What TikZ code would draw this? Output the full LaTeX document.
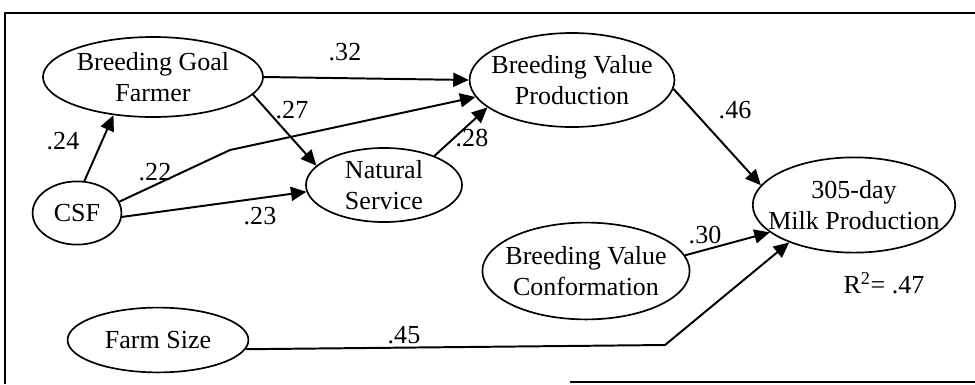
\documentclass[tikz,border=0pt]{standalone}
\usepackage{fontspec}
\setmainfont{Liberation Serif}
\usetikzlibrary{arrows.meta,shapes.geometric}

\begin{document}
\begin{tikzpicture}[x=0.025cm, y=-0.025cm,
  latent/.style={draw, ellipse, line width=1.2pt, inner sep=0pt, align=center,
    font=\fontsize{18.5}{22}\selectfont},
  effect/.style={-{Triangle[length=11pt,width=10pt]}, line width=1.4pt},
  coef/.style={font=\fontsize{18.5}{22}\selectfont}]
  \useasboundingbox (0,0) rectangle (975,384);
  % Frame (cut at the right)
  \draw[line width=1.2pt] (975,13) -- (5,13) -- (5,384);
  \draw[line width=1.2pt] (570,382) -- (975,382);
  % Variables
  \node[latent, minimum width=5.5cm, minimum height=2.0cm, inner xsep=-1pt] (goal) at (153,77) {Breeding Goal\\Farmer};
  \node[latent, minimum width=2.22cm, minimum height=1.58cm] (csf) at (77,213) {CSF};
  \node[latent, minimum width=3.9cm, minimum height=1.85cm] (natural) at (384,185) {Natural\\Service};
  \node[latent, minimum width=5.12cm, minimum height=2.35cm, inner xsep=-7pt] (bvprod) at (572,80) {Breeding Value\\Production};
  \node[latent, minimum width=5.05cm, minimum height=2.38cm, inner xsep=-10pt] (milk) at (854,205) {305-day\\Milk Production};
  \node[latent, minimum width=5.18cm, minimum height=2.42cm, inner xsep=-6.4pt] (bvconf) at (586,271) {Breeding Value\\Conformation};
  \node[latent, minimum width=4.52cm, minimum height=1.62cm] (farm) at (158,340) {Farm Size};
  % Bends
  \coordinate (csfbend) at (230,150);
  \coordinate (farmbend) at (665,345);
  % Paths
  \draw[effect] (goal.east) -- (bvprod.west);
  \draw[effect] (goal.-10) -- (natural.164);
  \draw[effect] (csf.77) -- (goal.224);
  \draw[effect] (csf.15) -- (csfbend) -- (bvprod.190);
  \draw[effect] (csf.-5) -- (natural.185);
  \draw[effect] (natural.30) -- (bvprod.-162);
  \draw[effect] (bvprod.-5) -- (milk.168);
  \draw[effect] (bvconf.9) -- (milk.198);
  \draw[effect] (farm.-6) -- (farmbend) -- (milk.210);
  % Coefficients
  \node[coef] (c32) at (345,52) {.32};
  \node[coef] (c27) at (292,110) {.27};
  \node[coef] (c24) at (63,141) {.24};
  \node[coef] (c22) at (155,172) {.22};
  \node[coef] (c23) at (260,216) {.23};
  \node[coef] (c28) at (472,138) {.28};
  \node[coef] (c46) at (735,110) {.46};
  \node[coef] (c30) at (705,235) {.30};
  \node[coef] (c45) at (404,335) {.45};
  \node[coef] (rsq) at (884,283) {R\textsuperscript{2}= .47};
\end{tikzpicture}
\end{document}
